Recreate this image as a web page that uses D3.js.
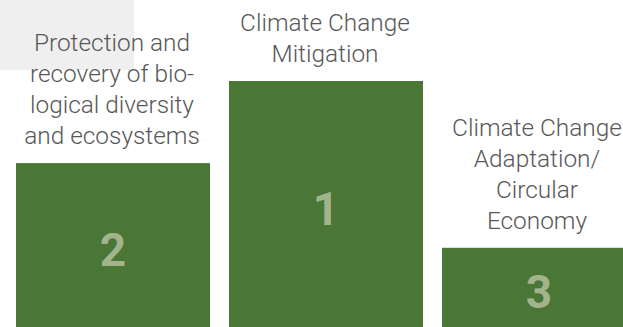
<!DOCTYPE html>
<html>
<head>
<meta charset="utf-8">
<script src="https://cdn.jsdelivr.net/npm/d3@7"></script>
<style>
  html, body { margin: 0; padding: 0; background: #fff; overflow: hidden; }
</style>
</head>
<body>
<svg width="623" height="327"></svg>
<script>
const svg = d3.select('svg');

// podium order left to right
const categories = ['bio', 'mitigation', 'adaptation'];
const ranks = [2, 1, 3];
const podiumHeights = [2.03, 3, 1.03];
const labelLines = [
  ['Protection and', 'recovery of bio-', 'logical diversity', 'and ecosystems'],
  ['Climate Change', 'Mitigation'],
  ['Climate Change', 'Adaptation/', 'Circular', 'Economy']
];

const podium = categories.map((c, i) => ({
  key: c, rank: ranks[i], height: podiumHeights[i], lines: labelLines[i]
}));

const bottom = 335; // bars run off the bottom edge
const x = d3.scaleBand()
  .domain(categories)
  .range([16, 636])
  .paddingInner(19 / 213)
  .paddingOuter(0);

const y = d3.scaleLinear()
  .domain([0, 3])
  .range([bottom, 81]);

// grey box in the top-left corner
svg.append('rect')
  .attr('x', 0).attr('y', 0)
  .attr('width', 134).attr('height', 70)
  .attr('fill', '#efefef');

const steps = svg.selectAll('g.step')
  .data(podium)
  .enter()
  .append('g')
    .attr('class', 'step');

steps.append('rect')
  .attr('x', d => x(d.key))
  .attr('y', d => y(d.height))
  .attr('width', x.bandwidth())
  .attr('height', d => bottom - y(d.height))
  .attr('fill', '#4a7636');

steps.append('text')
  .attr('x', d => x(d.key) + x.bandwidth() / 2)
  .attr('y', d => (y(d.height) + bottom) / 2)
  .attr('dy', '0.36em')
  .attr('text-anchor', 'middle')
  .style('font-family', 'Roboto, sans-serif')
  .style('font-weight', 700)
  .style('font-size', '46px')
  .attr('fill', '#a3b48c')
  .text(d => d.rank);

const lineHeight = 31;
const labels = steps.append('text')
  .attr('text-anchor', 'middle')
  .style('font-family', 'Roboto, sans-serif')
  .style('font-weight', 300)
  .style('font-size', '24.4px')
  .attr('fill', '#585858');

// labels sit a touch left of bar centre (keeps the right one inside the frame)
const labelX = d => Math.min(x(d.key) + x.bandwidth() / 2 - 1, 537);

labels.selectAll('tspan')
  .data(d => d.lines.map((line, i) => ({ line, i, d })))
  .enter()
  .append('tspan')
    .attr('x', t => labelX(t.d))
    .attr('y', t => y(t.d.height) - 19 - (t.d.lines.length - 1 - t.i) * lineHeight)
    .text(t => t.line);
</script>
</body>
</html>
